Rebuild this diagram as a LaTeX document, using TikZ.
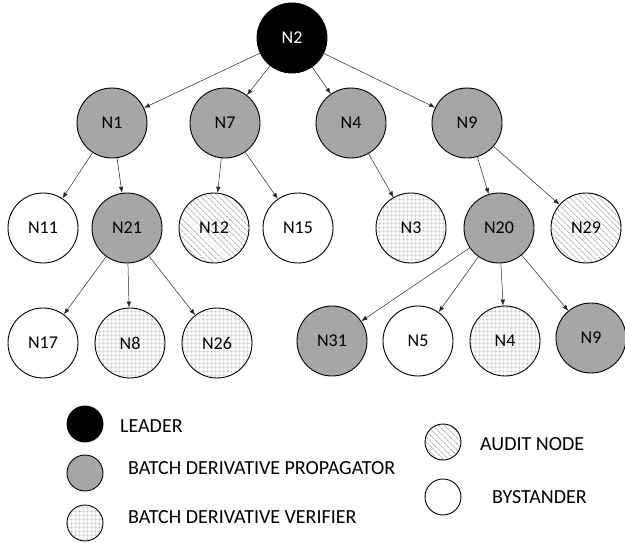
\documentclass[tikz,border=0pt]{standalone}
\usepackage{fontspec}
\setmainfont{Carlito}
\usetikzlibrary{patterns.meta,arrows.meta,positioning}
\definecolor{propgray}{RGB}{166,166,166}
\definecolor{hatchgray}{RGB}{185,185,185}
\definecolor{gridgray}{RGB}{200,200,200}
\tikzstyle{peer} = [circle,draw=black,line width=0.9pt,minimum size=70pt,inner sep=0pt, font=\fontsize{18}{18}\selectfont]
\tikzstyle{leader} = [peer,fill=black,text=white]
\tikzstyle{prop} = [peer,fill=propgray]
\tikzstyle{verif} = [peer,pattern={Hatch[angle=0,distance=4pt,line width=0.45pt]},pattern color=gridgray]
\tikzstyle{audit} = [peer,pattern={Lines[angle=-45,distance=4pt,line width=0.9pt]},pattern color=hatchgray]
\tikzstyle{bystand} = [peer,fill=white]
\tikzstyle{link} = [-{Latex[length=6pt,width=4.5pt]},line width=0.5pt,draw=black!85]
\tikzstyle{key} = [minimum size=36pt]
\tikzstyle{keytext} = [anchor=west,inner sep=0pt,font=\fontsize{20}{22}\selectfont]

\begin{document}
\begin{tikzpicture}[x=1pt,y=-1pt]
\useasboundingbox (0,0) rectangle (625,543);

% Tree
\node[leader]  (n2)  at (292,38)  {N2};

\node[prop]    (n1)  at (112,123) {N1};
\node[prop]    (n7)  at (225,123) {N7};
\node[prop]    (n4)  at (351,123) {N4};
\node[prop]    (n9)  at (467,123) {N9};

\node[bystand] (n11) at (43,228)  {N11};
\node[prop]    (n21) at (127,228) {N21};
\node[audit]   (n12) at (214,228) {N12};
\node[bystand] (n15) at (298,228) {N15};
\node[verif]   (n3)  at (411,228) {N3};
\node[prop]    (n20) at (499,228) {N20};
\node[audit]   (n29) at (586,228) {N29};

\node[bystand] (n17) at (43,343)  {N17};
\node[verif]   (n8)  at (130,343) {N8};
\node[verif]   (n26) at (217,343) {N26};
\node[prop]    (n31) at (332,341) {N31};
\node[bystand] (n5)  at (418,341) {N5};
\node[verif]   (n4b) at (505,341) {N4};
\node[prop]    (n9b) at (591,338) {N9};

% Edges
\foreach \c in {n1,n7,n4,n9} \draw[link] (n2) -- (\c);
\foreach \c in {n11,n21} \draw[link] (n1) -- (\c);
\foreach \c in {n12,n15} \draw[link] (n7) -- (\c);
\draw[link] (n4) -- (n3);
\foreach \c in {n20,n29} \draw[link] (n9) -- (\c);
\foreach \c in {n17,n8,n26} \draw[link] (n21) -- (\c);
\foreach \c in {n31,n5,n4b,n9b} \draw[link] (n20) -- (\c);

% Legend
\node[leader,key]  (kl) at (85,424)  {};
\node[prop,key]    (kp) at (85,473)  {};
\node[verif,key]   (kv) at (85,523)  {};
\node[audit,key]   (ka) at (443,442) {};
\node[bystand,key] (kb) at (443,497) {};

\node[keytext] (tl) at (120,426) {LEADER};
\node[keytext] (tp) at (128,468) {BATCH DERIVATIVE PROPAGATOR};
\node[keytext] (tv) at (128,517) {BATCH DERIVATIVE VERIFIER};
\node[keytext] (ta) at (480,444) {AUDIT NODE};
\node[keytext] (tb) at (492,497) {BYSTANDER};
\end{tikzpicture}
\end{document}
